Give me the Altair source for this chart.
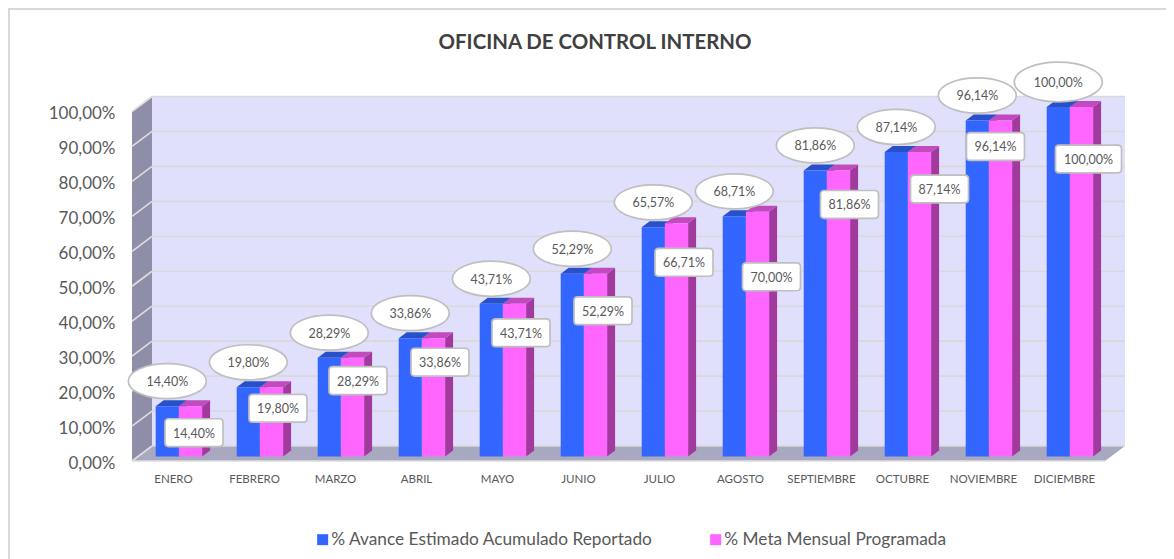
import altair as alt
import pandas as pd

chart_title = "OFICINA DE CONTROL INTERNO"
months = ["ENERO","FEBRERO","MARZO","ABRIL","MAYO","JUNIO","JULIO","AGOSTO","SEPTIEMBRE","OCTUBRE","NOVIEMBRE","DICIEMBRE"]
avance = [14.40,19.80,28.29,33.86,43.71,52.29,65.57,68.71,81.86,87.14,96.14,100.00]
meta = [14.40,19.80,28.29,33.86,43.71,52.29,66.71,70.00,81.86,87.14,96.14,100.00]
series_names = ["% Avance Estimado Acumulado Reportado", "% Meta Mensual Programada"]
grid_values = list(range(0, 101, 10))

# label placement relative to the pink bar, in pixels
box_dx = [3.5,6.5,5.5,6.5,6.5,7.5,7.5,14,11,20,-5,7]
box_dy = [26.5,21,23,24,29,37,39,65,34,37,26,52]

TXT = "#595959"
FONT = "Lato"
COL = {"front": ["#3366FF", "#FF66FF"], "top": ["#2850C8", "#C04ABE"], "side": ["#2850C8", "#A23A9E"]}

PX_X = 81.0     # pixels per category
PX_Y = 3.495    # pixels per percent
W, H = 993, 364
x_dom = [-41 / PX_X, (-41 + W) / PX_X]
y_dom = [0, H / PX_Y]
DX, DY = 20 / PX_X, 15 / PX_Y     # depth of the floor / walls
BAR_L, BAR_W = -17.3 / PX_X, 23.2 / PX_X
BDX, BDY = 8 / PX_X, 6 / PX_Y     # bar depth
BASE = 4.5 / PX_Y

fmt = lambda v: f"{v:.2f}".replace(".", ",") + "%"
xs = alt.Scale(domain=x_dom, nice=False, zero=False)
ys = alt.Scale(domain=y_dom, nice=False, zero=False)
x_axis = alt.Axis(values=list(range(12)), grid=False, domain=False, ticks=False,
                  labelExpr="[" + ",".join(f"'{m}'" for m in months) + "][datum.value]",
                  labelFont=FONT, labelFontSize=11.5, labelColor=TXT, labelPadding=12, labelOverlap=False)
y_axis = alt.Axis(values=grid_values, grid=False, domain=False, ticks=False,
                  labelExpr="replace(format(datum.value,'.2f'),'.',',')+'%'", labelOverlap=False, labelOffset=2,
                  labelFont=FONT, labelFontSize=17, labelColor=TXT, labelPadding=17, labelBound=False, labelFlush=False)
X = alt.X("x:Q", scale=xs, title=None, axis=x_axis)
Y = alt.Y("y:Q", scale=ys, title=None, axis=y_axis)

# ---- walls
x0, x1 = x_dom
wall = alt.Chart(pd.DataFrame([dict(x=x0 + DX, x2=x1, y=DY, y2=y_dom[1])])).mark_rect(color="#E0E0FD").encode(x=X, x2="x2:Q", y=Y, y2="y2:Q")
left = alt.Chart(pd.DataFrame([dict(x=x0, y=0, y2=100), dict(x=x0 + DX, y=DY, y2=100 + DY)])).mark_area(color="#8E8EA8").encode(x=X, y=Y, y2="y2:Q")
floor = alt.Chart(pd.DataFrame([dict(y=0, x=x0, x2=x1 - DX), dict(y=DY, x=x0 + DX, x2=x1)])).mark_area(color="#A8A8C0", orient="horizontal").encode(x=X, x2="x2:Q", y=Y)

# ---- grid
grid_back = alt.Chart(pd.DataFrame([dict(x=x0 + DX, x2=x1, y=g + DY) for g in grid_values])).mark_rule(color="#D9D9D9", strokeWidth=1.6).encode(x=X, x2="x2:Q", y=Y)
gl = []
for g in grid_values:
    gl += [dict(x=x0, y=g, g=g), dict(x=x0 + DX, y=g + DY, g=g)]
grid_left = alt.Chart(pd.DataFrame(gl)).mark_line(color="#DEDEDE", strokeWidth=1.6).encode(x=X, y=Y, detail="g:N")
front_edge = alt.Chart(pd.DataFrame([dict(x=x0, x2=x1 - DX, y=0)])).mark_rule(color="#DEDEDE", strokeWidth=1.6).encode(x=X, x2="x2:Q", y=Y)

# ---- bars
fronts, tops, sides = [], [], []
for s, vals in enumerate([avance, meta]):
    for i, v in enumerate(vals):
        l = i + BAR_L + s * BAR_W
        r = l + BAR_W
        t = v + BASE
        fronts.append(dict(x=l, x2=r, y=BASE, y2=t, serie=series_names[s]))
        tops += [dict(x=l, x2=r, y=t, k=f"{s}-{i}", s=s), dict(x=l + BDX, x2=r + BDX, y=t + BDY, k=f"{s}-{i}", s=s)]
        sides += [dict(x=r, y=BASE, y2=t, k=f"{s}-{i}", s=s), dict(x=r + BDX, y=BASE + BDY, y2=t + BDY, k=f"{s}-{i}", s=s)]

tops_df, sides_df = pd.DataFrame(tops), pd.DataFrame(sides)
layers_3d = []
for s in (0, 1):
    layers_3d.append(alt.Chart(sides_df[sides_df.s == s]).mark_area(color=COL["side"][s]).encode(x=X, y=Y, y2="y2:Q", detail="k:N"))
    layers_3d.append(alt.Chart(tops_df[tops_df.s == s]).mark_area(color=COL["top"][s], orient="horizontal").encode(x=X, x2="x2:Q", y=Y, detail="k:N"))

bars = alt.Chart(pd.DataFrame(fronts)).mark_rect().encode(
    x=X, x2="x2:Q", y=Y, y2="y2:Q",
    color=alt.Color("serie:N", sort=series_names,
                    scale=alt.Scale(domain=series_names, range=COL["front"]),
                    legend=alt.Legend(title=None, orient="none", legendX=182, legendY=434, direction="horizontal",
                                      symbolType="square", symbolSize=121, symbolStrokeWidth=0, labelFont=FONT, labelFontSize=17.3,
                                      labelColor=TXT, labelLimit=500, columnPadding=53, symbolOpacity=1, labelOffset=0)))

# ---- labels
ELL = "M-1,0A1,0.45,0,1,1,1,0A1,0.45,0,1,1,-1,0Z"
BOX = "M-0.87,-0.48H0.87Q1,-0.48,1,-0.35V0.35Q1,0.48,0.87,0.48H-0.87Q-1,0.48,-1,0.35V-0.35Q-1,-0.48,-0.87,-0.48Z"
BOXW = "M-0.89,-0.42H0.89Q1,-0.42,1,-0.31V0.31Q1,0.42,0.89,0.42H-0.89Q-1,0.42,-1,0.31V-0.31Q-1,-0.42,-0.89,-0.42Z"

ell = [dict(x=i + BAR_L + BAR_W / 2, y=v + BASE + 25 / PX_Y, t=fmt(v), w=v >= 100) for i, v in enumerate(avance)]
box = [dict(x=i + BAR_L + 1.5 * BAR_W + box_dx[i] / PX_X, y=v + BASE - box_dy[i] / PX_Y, t=fmt(v), w=v >= 100) for i, v in enumerate(meta)]
ell_df, box_df = pd.DataFrame(ell), pd.DataFrame(box)

def pts(df, shape, size):
    return alt.Chart(df).mark_point(shape=shape, size=size, filled=True, fill="white", stroke="#BFBFBF", strokeWidth=1.7, opacity=1).encode(x=X, y=Y)

ell_a = pts(ell_df[~ell_df.w], ELL, 78 ** 2)
ell_b = pts(ell_df[ell_df.w], ELL, 88 ** 2)
box_a = pts(box_df[~box_df.w], BOX, 58 ** 2)
box_b = pts(box_df[box_df.w], BOXW, 66 ** 2)
txt = lambda df: alt.Chart(df).mark_text(font=FONT, fontSize=12.5, color=TXT, dy=1).encode(x=X, y=Y, text="t:N")

# chart frame: only the top and left edges show in the reference
frame_top = alt.Chart(pd.DataFrame([dict(a=1)])).mark_rule(stroke="#D9D9D9", strokeWidth=2, clip=False).encode(
    x=alt.value(-124), x2=alt.value(1034), y=alt.value(-88))
frame_left = alt.Chart(pd.DataFrame([dict(a=1)])).mark_rule(stroke="#D9D9D9", strokeWidth=2, clip=False).encode(
    x=alt.value(-123), y=alt.value(-89), y2=alt.value(462))

title_mark = alt.Chart(pd.DataFrame([dict(t=chart_title)])).mark_text(
    font=FONT, fontSize=20.4, fontWeight="bold", color="#404040", clip=False).encode(
    x=alt.value(463), y=alt.value(-54), text="t:N")

chart = alt.layer(frame_top, frame_left, wall, left, floor, grid_back, grid_left, front_edge, *layers_3d, bars,
                  ell_a, ell_b, txt(ell_df), box_a, box_b, txt(box_df), title_mark).properties(
    width=W, height=H,
    autosize=alt.AutoSizeParams(type="none"),
    padding={"left": 124, "top": 89, "right": 41, "bottom": 98},
    background="white",
).configure_view(stroke=None)

chart.save("out.html", embed_options={"renderer": "svg", "actions": False})
